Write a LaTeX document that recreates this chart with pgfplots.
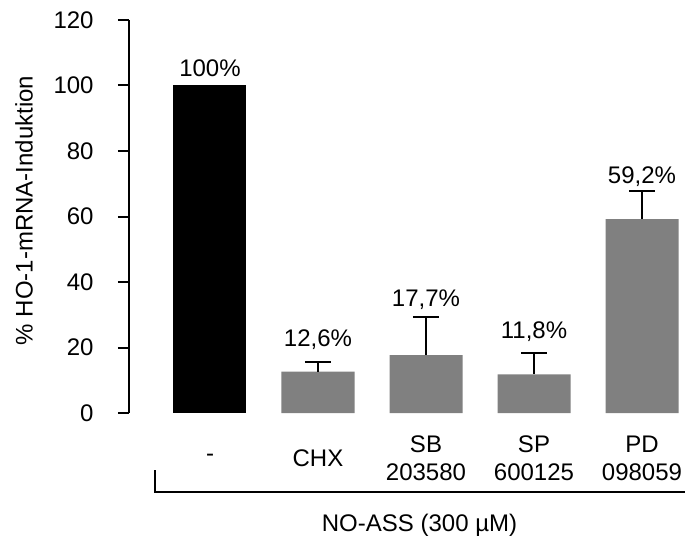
\documentclass[border=0pt]{standalone}
\usepackage{pgfplots}
\pgfplotsset{compat=1.18}
\usepackage{fontspec}
\setmainfont{Liberation Sans}
\definecolor{bargray}{HTML}{808080}
\newcommand{\chartfont}{\fontsize{12bp}{14bp}\selectfont}
\begin{document}
\chartfont
\begin{tikzpicture}
\useasboundingbox (-64.5bp,-62bp) rectangle (282bp,206.5bp);
\begin{axis}[
  scale only axis, width=280.8bp, height=196.5bp,
  xmin=-0.75, xmax=4.45, ymin=0, ymax=120,
  axis x line*=bottom, axis y line*=left,
  x axis line style={draw=none},
  y axis line style={line width=1bp, -},
  xtick={0,1,2,3,4},
  xticklabels={-, CHX, {SB\\203580}, {SP\\600125}, {PD\\098059}},
  xtick style={draw=none},
  xticklabel style={align=center, anchor=center, inner sep=0pt, yshift=-17bp, font=\chartfont},
  ytick={0,20,...,120},
  tick align=outside,
  major tick length=5.5bp,
  ytick style={line width=1bp, black},
  yticklabel style={anchor=east, inner sep=0pt, xshift=-12bp, font=\chartfont},
  /pgf/number format/assume math mode=true,
  ylabel={\% HO-1-mRNA-Induktion},
  ylabel style={at={(rel axis cs:0,0.5)}, anchor=center, yshift=52.5bp, xshift=3bp, font=\chartfont},
  clip=false,
]
\addplot[ybar, bar width=36.5bp, bar shift=0pt, fill=black, draw=none] coordinates {(0,100)};
\addplot[ybar, bar width=36.5bp, bar shift=0pt, fill=bargray, draw=none,
  error bars/.cd, y dir=plus, y explicit,
  error bar style={line width=1bp, black},
  error mark options={rotate=90, mark size=6.5bp, line width=1bp, black}]
  coordinates {(1,12.6) +- (0,3.1) (2,17.7) +- (0,11.7) (3,11.8) +- (0,6.6) (4,59.2) +- (0,8.7)};
\node[anchor=center] at (axis cs:0,105.3) {100\%};
\node[anchor=center] at (axis cs:1,22.3) {12,6\%};
\node[anchor=center] at (axis cs:2,34.5) {17,7\%};
\node[anchor=center] at (axis cs:3,24.8) {11,8\%};
\node[anchor=center] at (axis cs:4,72.2) {59,2\%};
\draw[line width=1bp] ([yshift=-28.5bp]axis cs:-0.509,0) -- ([yshift=-39.3bp]axis cs:-0.509,0) -- ([yshift=-39.3bp]axis cs:4.398,0);
\node[anchor=center] at ([yshift=-56bp]axis cs:1.94,0) {NO-ASS (300 µM)};
\end{axis}
\end{tikzpicture}
\end{document}
